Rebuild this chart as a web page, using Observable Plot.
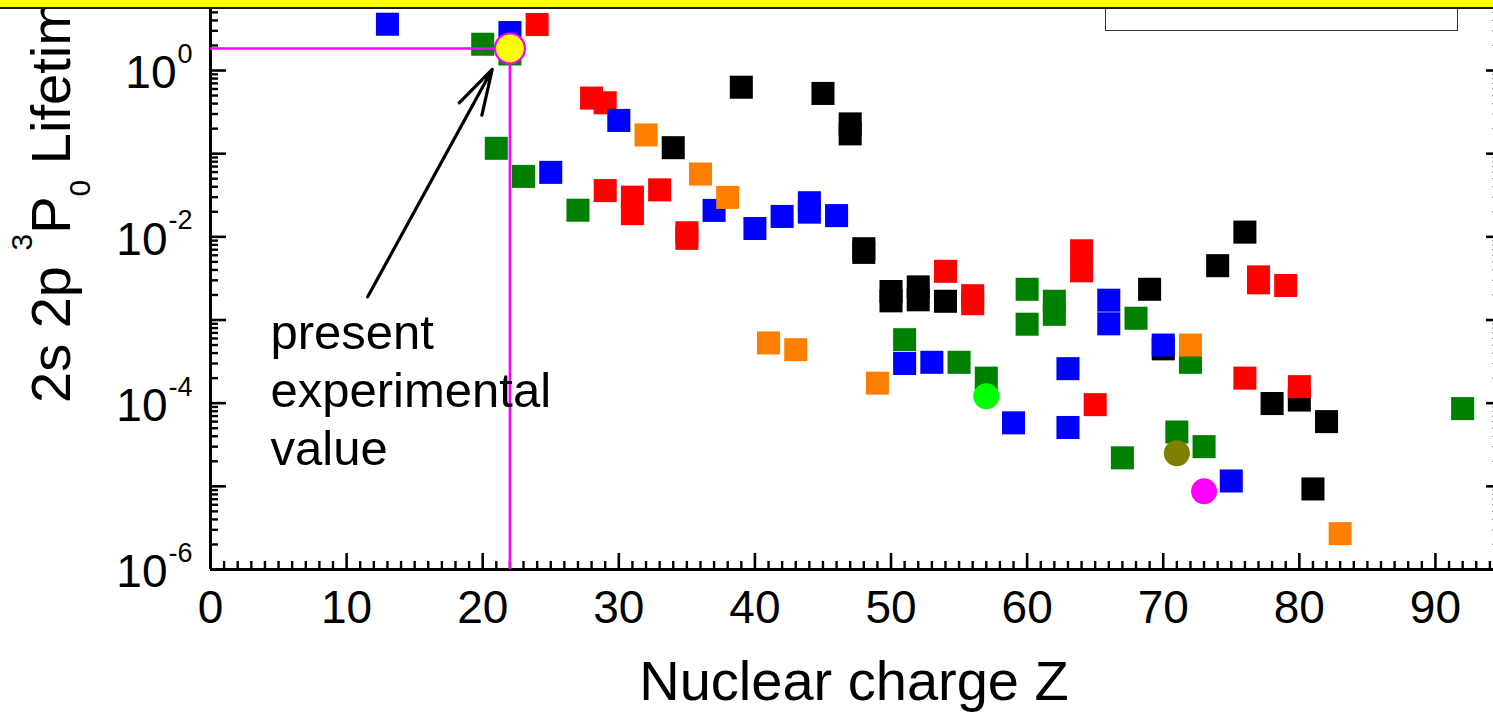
<!DOCTYPE html>
<html>
<head>
<meta charset="utf-8">
<script src="https://cdn.jsdelivr.net/npm/d3@7"></script>
<script src="https://cdn.jsdelivr.net/npm/@observablehq/plot@0.6"></script>
<style>
  html, body { margin: 0; padding: 0; background: #fff; overflow: hidden; }
  #wrap { position: relative; width: 1493px; height: 712px; overflow: hidden; background: #fff; }
  #band { position: absolute; left: 0; top: 0; width: 1493px; height: 7px; background: #ffff00; border-bottom: 2.5px solid #1a1a1a; z-index: 3; }
  #legendbox { position: absolute; left: 1105px; top: 0; width: 353px; height: 31px; box-sizing: border-box; border: 1.5px solid #333; background: #fff; z-index: 2; }
  #chart { position: absolute; left: 0; top: 0; width: 1500px; height: 712px; z-index: 1; }
  #chart svg { max-width: none !important; width: 1500px !important; height: 712px !important; }
</style>
</head>
<body>
<div id="wrap">
  <div id="chart"></div>
  <div id="legendbox"></div>
  <div id="band"></div>
</div>
<script>
// ---------------- data (Z = nuclear charge, tau = lifetime in s) ----------------
const blackZ   = [34, 39, 45, 47, 47, 48, 48, 50, 50, 52, 52, 54, 69, 70, 74, 76, 78, 80, 81, 82];
const blackTau = [0.118, 0.63, 0.53, 0.228, 0.173, 0.0072, 0.0065, 2.2e-3, 1.7e-3, 2.5e-3, 1.75e-3, 1.68e-3, 2.34e-3, 4.5e-4, 4.5e-3, 0.0114, 9.9e-5, 1.09e-4, 9.3e-6, 6.0e-5];

const greenZ   = [20, 21, 22, 23, 27, 51, 55, 57, 60, 60, 62, 62, 67, 68, 71, 72, 73, 92];
const greenTau = [2.07, 0.116, 1.58, 0.0533, 0.0209, 5.8e-4, 3.1e-4, 2.0e-4, 2.34e-3, 8.9e-4, 1.68e-3, 1.17e-3, 2.2e-5, 1.05e-3, 4.5e-5, 3.1e-4, 3.0e-5, 8.6e-5];

const redZ   = [24, 28, 29, 29, 31, 31, 33, 35, 35, 54, 56, 56, 64, 64, 65, 76, 77, 77, 79, 80];
const redTau = [3.57, 0.466, 0.409, 0.036, 0.030, 0.019, 0.0367, 0.0112, 0.0096, 3.85e-3, 1.96e-3, 1.57e-3, 6.8e-3, 3.9e-3, 9.6e-5, 2.0e-4, 3.3e-3, 2.8e-3, 2.6e-3, 1.58e-4];

const blueZ   = [13, 22, 25, 30, 37, 40, 42, 44, 44, 46, 51, 53, 59, 63, 63, 66, 66, 70, 75];
const blueTau = [3.6, 2.86, 0.0596, 0.251, 0.0208, 0.0126, 0.0176, 0.0257, 0.0198, 0.018, 3.0e-4, 3.1e-4, 5.8e-5, 2.6e-4, 5.1e-5, 1.73e-3, 9.0e-4, 5.0e-4, 1.16e-5];

const orangeZ   = [32, 36, 38, 41, 43, 49, 72, 83];
const orangeTau = [0.168, 0.0569, 0.0298, 5.3e-4, 4.4e-4, 1.74e-4, 5.0e-4, 2.7e-6];

const circleZ      = [57, 71, 73];
const circleTau    = [1.21e-4, 2.5e-5, 8.7e-6];
const circleColors = ["#00ff00", "#808000", "#ff00ff"];

const presentZ   = 22;
const presentTau = 1.84;

const xTickValues = [0, 10, 20, 30, 40, 50, 60, 70, 80, 90];
const yLabelValues = [1, 1e-2, 1e-4, 1e-6];
const yLabelExps   = ["0", "-2", "-4", "-6"];

const annotationText = "present\nexperimental\nvalue";
const annotationAt   = {Z: 4.41, tau: 1.5e-4};
const arrowFrom      = {Z: 11.55, tau: 1.9e-3};
const arrowTo        = {Z: 20.7, tau: 1.03};

// ---------------- build ----------------
const series = [
  {color: "#000000", Z: blackZ,  tau: blackTau},
  {color: "#008000", Z: greenZ,  tau: greenTau},
  {color: "#ff0000", Z: redZ,    tau: redTau},
  {color: "#0000ff", Z: blueZ,   tau: blueTau},
  {color: "#ff8000", Z: orangeZ, tau: orangeTau}
];
const squares = series.flatMap(s => s.Z.map((z, i) => ({Z: z, tau: s.tau[i], color: s.color})));
const circles = circleZ.map((z, i) => ({Z: z, tau: circleTau[i], color: circleColors[i]}));

const yMajor = d3.range(-6, 1).map(e => Math.pow(10, e));
const yMinor = [];
for (let e = -6; e <= 0; e++) for (let k = 2; k <= 9; k++) { const v = k * Math.pow(10, e); if (v < 5.49) yMinor.push(v); }
const xMinor = d3.range(0, 95).filter(v => v % 10 !== 0);

const font = "'Liberation Sans', Arial, sans-serif";
const blank = () => "";

const expWidth = s => [...s].reduce((w, c) => w + (c === "-" ? 0.333 : 0.556), 0) * 27;

const yLabelMarks = yLabelValues.flatMap((v, i) => [
  Plot.text([v], {y: d => d, frameAnchor: "left", text: () => "10", textAnchor: "end", lineAnchor: "middle",
    dx: -(18 + expWidth(yLabelExps[i]) + 1), dy: 3, fontSize: 46, fill: "black"}),
  Plot.text([v], {y: d => d, frameAnchor: "left", text: () => yLabelExps[i], textAnchor: "end", lineAnchor: "middle",
    dx: -18, dy: -16, fontSize: 27, fill: "black"})
]);

const chart = Plot.plot({
  width: 1500,
  height: 712,
  marginLeft: 210,
  marginRight: 3,
  marginTop: 8.5,
  marginBottom: 143,
  style: {fontFamily: font, background: "white", color: "black", overflow: "visible"},
  x: {domain: [0, 94.56]},
  y: {type: "log", domain: [1e-6, 5.49]},
  marks: [
    // axes: inward ticks
    Plot.axisX({ticks: xTickValues, tickSize: -16, tickFormat: blank, label: null, strokeWidth: 2.6}),
    Plot.axisX({ticks: xMinor, tickSize: -8, tickFormat: blank, label: null, strokeWidth: 2.4}),
    Plot.axisX({ticks: xTickValues, tickSize: 0, tickPadding: 21, tickFormat: d => String(d), label: null, fontSize: 46}),
    Plot.axisY({ticks: yMajor, anchor: "left", tickSize: -16, tickFormat: blank, label: null, strokeWidth: 2.6}),
    Plot.axisY({ticks: yMinor, anchor: "left", tickSize: -8, tickFormat: blank, label: null, strokeWidth: 2.4}),
    Plot.axisY({ticks: yMajor, anchor: "right", tickSize: -12, tickFormat: blank, label: null, strokeWidth: 2.6}),
    Plot.axisY({ticks: yMinor, anchor: "right", tickSize: -6, tickFormat: blank, label: null, strokeWidth: 1.2, stroke: "#888"}),
    Plot.ruleX([0], {stroke: "black", strokeWidth: 3}),
    Plot.ruleY([1e-6], {stroke: "black", strokeWidth: 3}),
    ...yLabelMarks,
    Plot.text(["Nuclear charge Z"], {frameAnchor: "bottom", lineAnchor: "middle", text: d => d, dy: 113, fontSize: 56, fill: "black"}),
    // data
    Plot.dot(squares, {x: "Z", y: "tau", symbol: "square", r: 13, fill: "color", stroke: null}),
    Plot.dot(circles, {x: "Z", y: "tau", symbol: "circle", r: 13, fill: "color", stroke: null}),
    // present value guides
    Plot.ruleY([presentTau], {x1: 0, x2: presentZ, stroke: "#ff00ff", strokeWidth: 2.6}),
    Plot.ruleX([presentZ], {y1: 1e-6, y2: presentTau, stroke: "#ff00ff", strokeWidth: 2.6}),
    Plot.dot([{Z: presentZ, tau: presentTau}], {x: "Z", y: "tau", r: 15, fill: "#ffff00", stroke: "#ff00ff", strokeWidth: 2.2}),
    // annotation
    Plot.arrow([{a: arrowFrom, b: arrowTo}], {x1: d => d.a.Z, y1: d => d.a.tau, x2: d => d.b.Z, y2: d => d.b.tau,
      stroke: "black", strokeWidth: 3.2, headLength: 22, headAngle: 32}),
    Plot.text([annotationAt], {x: "Z", y: "tau", text: () => annotationText, textAnchor: "start", lineAnchor: "middle",
      lineHeight: 1.19, fontSize: 49, fill: "black"})
  ]
});

// y-axis title with superscript / subscript
const svgEl = chart.tagName.toLowerCase() === "svg" ? chart : chart.querySelector("svg");
const t = d3.select(svgEl).append("text")
  .attr("transform", "translate(70,403) rotate(-90)")
  .attr("font-family", font)
  .attr("font-size", 56)
  .attr("fill", "black")
  .attr("text-anchor", "start");
t.append("tspan").text("2s 2p ");
t.append("tspan").attr("font-size", 30).attr("dy", -38).text("3");
t.append("tspan").attr("font-size", 56).attr("dy", 38).text("P");
t.append("tspan").attr("font-size", 30).attr("dy", 20).text("0");
t.append("tspan").attr("font-size", 56).attr("dy", -20).text(" Lifetime (s)");

document.getElementById("chart").appendChild(chart);
</script>
</body>
</html>
